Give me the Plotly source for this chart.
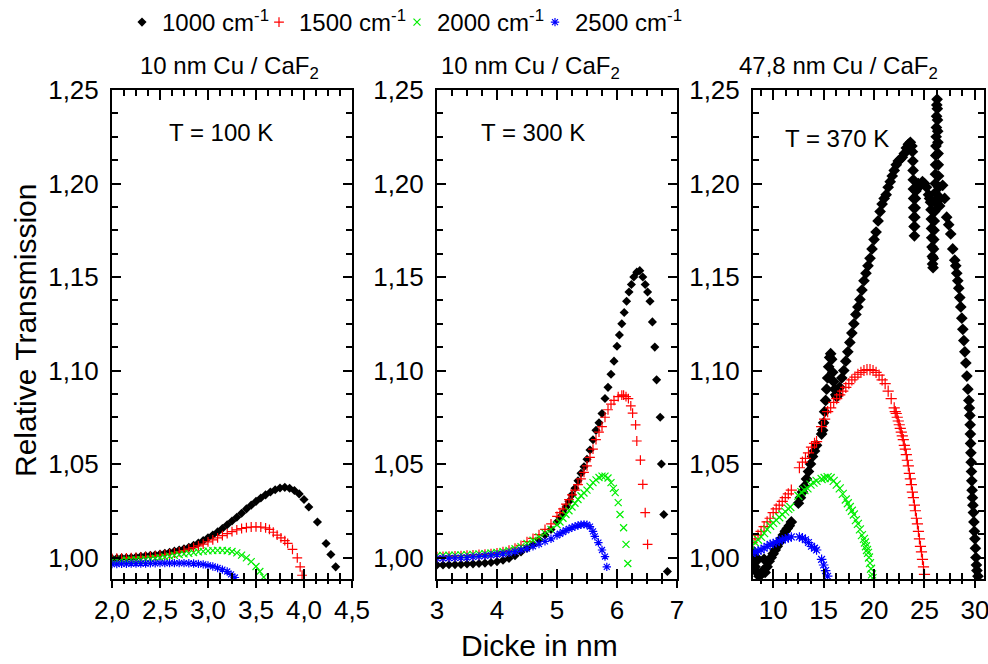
import plotly.graph_objects as go

# ---------------- data ----------------
series_names = ["1000 cm<sup>-1</sup>", "1500 cm<sup>-1</sup>", "2000 cm<sup>-1</sup>", "2500 cm<sup>-1</sup>"]
panel_titles = ["10 nm Cu / CaF<sub>2</sub>", "10 nm Cu / CaF<sub>2</sub>", "47,8 nm Cu / CaF<sub>2</sub>"]
panel_temps = ["T = 100 K", "T = 300 K", "T = 370 K"]
x_title = "Dicke in nm"
y_title = "Relative Transmission"

# Panel 1 (10 nm, 100 K)
p1_x_1000 = [2.00,2.05,2.10,2.15,2.20,2.25,2.30,2.35,2.40,2.45,2.50,2.55,2.60,2.65,2.70,2.75,2.80,2.85,2.90,2.95,
             3.00,3.05,3.10,3.15,3.20,3.25,3.30,3.35,3.40,3.45,3.50,3.55,3.60,3.65,3.70,3.75,3.80,3.85,3.90,3.95,
             4.00,4.05,4.14,4.23,4.28,4.33]
p1_y_1000 = [.9995,.9996,.9998,.9999,1.0000,1.0003,1.0006,1.0009,1.0012,1.0015,1.0018,1.0023,1.0028,1.0034,1.0040,1.0047,1.0055,1.0065,1.0077,1.0090,
             1.0105,1.0120,1.0137,1.0155,1.0175,1.0195,1.0215,1.0237,1.0260,1.0280,1.0300,1.0318,1.0335,1.0350,1.0362,1.0372,1.0375,1.0370,1.0358,1.0340,
             1.0310,1.0270,1.0190,1.0075,1.0016,0.9950]
p1_x_1500 = [2.00,2.05,2.10,2.15,2.20,2.25,2.30,2.35,2.40,2.45,2.50,2.55,2.60,2.65,2.70,2.75,2.80,2.85,2.90,2.95,
             3.00,3.05,3.10,3.15,3.20,3.25,3.30,3.35,3.40,3.45,3.50,3.55,3.60,3.64,3.68,3.72,3.76,3.80,3.83,3.88,
             3.93,3.96,3.98]
p1_y_1500 = [.9995,.9996,.9997,.9998,.9999,1.0000,1.0002,1.0004,1.0006,1.0009,1.0012,1.0015,1.0019,1.0024,1.0030,1.0037,1.0045,1.0053,1.0062,1.0072,
             1.0083,1.0094,1.0105,1.0117,1.0128,1.0138,1.0148,1.0155,1.0160,1.0163,1.0164,1.0163,1.0158,1.0150,1.0135,1.0120,1.0105,1.0090,1.0075,1.0043,
             0.9998,0.9950,0.9905]
p1_x_2000 = [2.00,2.05,2.10,2.15,2.20,2.25,2.30,2.35,2.40,2.45,2.50,2.55,2.60,2.65,2.70,2.75,2.80,2.85,2.90,2.95,
             3.00,3.05,3.10,3.15,3.20,3.25,3.30,3.35,3.40,3.45,3.50,3.54,3.58]
p1_y_2000 = [.9985,.9985,.9986,.9986,.9987,.9988,.9989,.9991,.9993,.9996,.9999,1.0003,1.0007,1.0011,1.0015,1.0019,1.0022,1.0026,1.0030,1.0033,
             1.0035,1.0037,1.0038,1.0038,1.0036,1.0032,1.0025,1.0013,.9998,.9978,.9952,.9925,.9895]
p1_x_2500 = [2.00,2.05,2.10,2.15,2.20,2.25,2.30,2.35,2.40,2.45,2.50,2.55,2.60,2.65,2.70,2.75,2.80,2.85,2.90,2.95,
             3.00,3.05,3.10,3.15,3.20,3.24,3.28]
p1_y_2500 = [.9965,.9965,.9966,.9966,.9967,.9967,.9968,.9968,.9969,.9969,.9970,.9970,.9970,.9970,.9970,.9970,.9969,.9968,.9966,.9963,
             .9958,.9952,.9944,.9935,.9925,.9910,.9893]

# Panel 2 (10 nm, 300 K)
p2_x_1000 = [3.0,3.1,3.2,3.3,3.4,3.5,3.6,3.7,3.8,3.9,4.0,4.1,4.2,4.3,4.4,4.5,4.6,4.7,4.8,4.9,5.0,
             5.05,5.10,5.15,5.20,5.25,5.30,5.35,5.40,5.45,5.50,5.55,5.60,5.65,5.70,5.75,5.80,5.85,5.90,5.95,6.00,
             6.04,6.08,6.12,6.16,6.20,6.24,6.28,
             6.33,6.38,6.43,6.47,6.51,6.55,6.59,6.63,6.66,6.72,6.74,6.78,6.84]
p2_y_1000 = [.9960,.9960,.9961,.9962,.9963,.9965,.9966,.9968,.9970,.9973,.9978,.9985,.9995,1.0010,1.0030,1.0050,1.0070,1.0095,1.0120,1.0150,1.0190,
             1.0215,1.0240,1.0270,1.0300,1.0335,1.0370,1.0410,1.0450,1.0485,1.0525,1.0575,1.0630,1.0680,1.0720,1.0770,1.0850,1.0910,1.0980,1.1050,1.1130,
             1.1190,1.1250,1.1310,1.1370,1.1420,1.1460,1.1500,
             1.1526,1.1534,1.1500,1.1460,1.1420,1.1370,1.1260,1.1125,1.0950,1.0750,1.0500,1.0230,0.9925]
p2_x_1500 = [3.0,3.1,3.2,3.3,3.4,3.5,3.6,3.7,3.8,3.9,4.0,4.1,4.2,4.3,4.4,4.5,4.6,4.7,4.8,4.9,5.0,
             5.05,5.10,5.15,5.20,5.25,5.30,5.35,5.40,5.45,5.50,5.55,5.60,5.65,5.70,5.75,5.80,5.85,5.90,5.95,
             6.02,6.08,6.11,6.15,6.19,6.23,6.26,6.31,6.33,6.39,6.43,6.47,6.51]
p2_y_1500 = [1.0005,1.0006,1.0007,1.0009,1.0010,1.0012,1.0014,1.0016,1.0018,1.0021,1.0025,1.0031,1.0039,1.0050,1.0065,1.0085,1.0102,1.0122,1.0150,1.0180,1.0220,
             1.0240,1.0260,1.0285,1.0310,1.0335,1.0360,1.0390,1.0420,1.0455,1.0490,1.0535,1.0580,1.0630,1.0670,1.0700,1.0750,1.0790,1.0820,1.0840,
             1.0860,1.0868,1.0868,1.0860,1.0850,1.0811,1.0772,1.0709,1.0623,1.0521,1.0391,1.0240,1.0070]
p2_x_2000 = [3.0,3.1,3.2,3.3,3.4,3.5,3.6,3.7,3.8,3.9,4.0,4.1,4.2,4.3,4.4,4.5,4.6,4.7,4.8,4.9,5.0,
             5.05,5.10,5.15,5.20,5.25,5.30,5.35,5.40,5.45,5.50,5.55,5.60,5.65,5.70,5.75,
             5.80,5.85,5.90,5.94,5.97,6.02,6.05,6.11,6.15,6.18]
p2_y_2000 = [1.0010,1.0011,1.0012,1.0013,1.0014,1.0015,1.0017,1.0019,1.0021,1.0024,1.0027,1.0032,1.0038,1.0047,1.0058,1.0075,1.0092,1.0110,1.0130,1.0150,1.0175,
             1.0190,1.0210,1.0230,1.0250,1.0270,1.0290,1.0310,1.0330,1.0345,1.0360,1.0380,1.0400,1.0415,1.0428,1.0435,
             1.0435,1.0425,1.0400,1.0370,1.0347,1.0293,1.0230,1.0159,1.0070,0.9968]
p2_x_2500 = [3.0,3.1,3.2,3.3,3.4,3.5,3.6,3.7,3.8,3.9,4.0,4.1,4.2,4.3,4.4,4.5,4.6,4.7,4.8,4.9,5.0,
             5.05,5.10,5.15,5.20,5.25,5.30,5.35,5.40,5.45,5.50,5.55,
             5.60,5.63,5.69,5.75,5.80,5.83]
p2_y_2500 = [.9995,.9996,.9997,.9998,.9999,1.0000,1.0003,1.0006,1.0009,1.0012,1.0016,1.0020,1.0025,1.0032,1.0040,1.0048,1.0060,1.0072,1.0086,1.0100,1.0118,
             1.0127,1.0136,1.0145,1.0153,1.0160,1.0166,1.0171,1.0175,1.0177,1.0175,1.0165,
             1.0140,1.0113,1.0080,1.0040,1.0005,0.9950]

# Panel 3 (47,8 nm, 370 K)
p3_x_1000 = [8.0,8.1,8.2,8.4,8.5,8.6,8.8,9.0,9.1,9.2,9.4,9.6,9.8,10.0,10.2,10.4,10.6,10.8,11.0,11.2,11.4,11.6,11.8,
             12.5,12.7,12.9,13.1,13.3,13.5,13.7,13.9,14.1,14.3,
             14.8,14.9,15.0,15.1,15.2,15.3,15.4,15.5,15.6,15.7,
             15.8,15.9,16.0,16.1,16.2,16.3,16.4,16.6,16.8,17.0,
             17.2,17.4,17.6,17.8,18.0,18.2,18.4,18.6,18.8,19.0,
             19.2,19.4,19.6,19.8,20.0,20.2,20.4,20.6,20.8,21.0,
             21.2,21.4,21.6,21.8,22.0,22.2,22.4,22.6,22.8,23.0,
             23.2,23.4,23.6,23.75,23.8,23.85,23.87,23.89,23.9,23.92,23.93,23.95,23.97,24.0,
             24.03,24.05,24.08,24.1,24.15,24.2,24.4,24.6,24.8,25.0,25.2,25.4,25.5,
             25.6,25.65,25.68,25.7,25.72,25.75,25.78,25.8,25.85,25.88,25.9,25.92,25.95,25.97,26.0,
             26.02,26.05,26.07,26.09,26.1,26.12,26.14,26.16,26.18,26.2,26.22,
             26.25,26.27,26.29,26.31,26.33,26.35,26.37,26.4,26.43,26.46,26.5,26.6,26.8,
             27.0,27.2,27.4,27.6,27.8,28.0,28.1,28.2,28.3,28.4,28.5,28.6,28.7,28.8,28.9,
             29.0,29.1,29.2,29.3,29.4,29.45,29.5,29.53,29.55,29.57,29.6,29.63,29.66,29.69,29.72,
             29.75,29.8,29.85,29.9,29.95,30.0,30.05,30.1,30.15,30.2,30.3]
p3_y_1000 = [0.998,1.003,0.995,0.992,0.999,0.990,0.991,0.993,0.999,0.992,0.995,0.998,1.000,1.002,1.004,1.006,1.008,1.010,1.012,1.014,1.0155,1.017,1.019,
             1.029,1.032,1.035,1.038,1.042,1.046,1.050,1.054,1.057,1.060,
             1.066,1.068,1.072,1.078,1.084,1.090,1.096,1.102,1.107,1.109,
             1.106,1.099,1.094,1.090,1.087,1.086,1.087,1.091,1.096,1.100,
             1.105,1.110,1.115,1.120,1.125,1.130,1.134,1.138,1.143,1.148,
             1.152,1.156,1.160,1.165,1.170,1.174,1.180,1.185,1.189,1.192,
             1.194,1.198,1.201,1.204,1.207,1.210,1.212,1.213,1.214,1.216,
             1.219,1.221,1.222,1.220,1.217,1.212,1.207,1.202,1.197,1.192,1.187,1.182,1.177,1.172,
             1.177,1.182,1.187,1.192,1.196,1.197,1.200,1.199,1.201,1.200,1.198,1.194,1.192,
             1.190,1.186,1.181,1.176,1.171,1.166,1.161,1.157,1.155,1.160,1.165,1.170,1.175,1.180,1.185,
             1.190,1.195,1.200,1.205,1.210,1.215,1.220,1.225,1.230,1.236,1.242,
             1.245,1.240,1.234,1.228,1.222,1.216,1.210,1.204,1.198,1.192,1.188,1.192,1.199,
             1.192,1.182,1.178,1.173,1.165,1.159,1.156,1.152,1.148,1.144,1.139,1.134,1.128,1.122,1.116,
             1.110,1.104,1.097,1.090,1.084,1.080,1.076,1.071,1.066,1.061,1.056,1.051,1.046,1.041,1.036,
             1.032,1.028,1.024,1.019,1.014,1.010,1.005,1.000,0.996,0.993,0.990]
p3_x_1500 = [7.9,8.2,8.5,8.8,9.1,9.4,9.7,10.0,10.3,10.6,10.9,11.2,11.5,11.8,
             12.6,12.9,13.2,13.5,13.8,14.1,14.3,
             14.8,15.1,15.4,15.7,16.0,16.3,16.6,16.9,17.2,17.5,17.8,18.1,18.4,18.7,19.0,19.3,19.6,19.9,20.2,20.5,20.8,21.1,21.4,21.7,
             22.0,22.1,22.2,22.3,22.4,22.5,22.6,22.7,22.8,22.9,23.0,23.1,23.2,23.3,23.4,23.5,23.6,23.7,23.8,23.9,
             24.0,24.1,24.2,24.3,24.4,24.5,24.6,24.7,24.8,24.9,25.0]
p3_y_1500 = [1.008,1.010,1.012,1.014,1.0165,1.019,1.021,1.024,1.026,1.028,1.030,1.032,1.034,1.036,
             1.048,1.051,1.053,1.056,1.059,1.061,1.062,
             1.070,1.074,1.078,1.080,1.083,1.085,1.087,1.089,1.091,1.093,1.095,1.0965,1.098,1.099,1.100,1.1005,1.1005,1.100,1.099,1.0975,1.095,1.093,1.089,1.085,
             1.080,1.078,1.077,1.075,1.073,1.071,1.069,1.067,1.065,1.063,1.060,1.058,1.055,1.052,1.049,1.045,1.042,1.039,1.035,1.032,
             1.028,1.025,1.021,1.018,1.014,1.010,1.006,1.003,0.999,0.995,0.991]
p3_x_2000 = [7.9,8.2,8.5,8.8,9.1,9.4,9.7,10.0,10.3,10.6,10.9,11.2,11.5,11.7,
             12.5,12.8,13.1,13.4,13.7,14.0,14.3,
             14.8,15.1,15.4,15.7,16.0,16.3,16.6,16.9,17.2,17.4,17.6,17.8,18.0,18.2,18.4,18.6,18.8,19.0,
             19.1,19.2,19.3,19.4,19.5,19.6,19.7,19.8,19.85]
p3_y_2000 = [1.006,1.008,1.0095,1.011,1.013,1.015,1.017,1.0185,1.020,1.0215,1.023,1.0245,1.026,1.027,
             1.033,1.035,1.036,1.037,1.039,1.040,1.041,
             1.042,1.0425,1.043,1.0425,1.041,1.039,1.037,1.034,1.031,1.029,1.027,1.025,1.023,1.020,1.018,1.015,1.012,1.010,
             1.008,1.006,1.004,1.0025,1.000,0.997,0.994,0.991,0.989]
p3_x_2500 = [7.9,8.2,8.5,8.8,9.1,9.4,9.7,10.0,10.3,10.6,10.9,11.2,11.5,11.8,
             12.6,12.9,13.2,13.5,13.8,14.1,14.3,
             14.8,15.0,15.2,15.4]
p3_y_2500 = [1.002,1.003,1.0035,1.004,1.005,1.006,1.007,1.0075,1.008,1.009,1.0095,1.010,1.0105,1.011,
             1.011,1.0105,1.0095,1.008,1.006,1.005,1.004,
             0.999,0.996,0.993,0.990]

panel_data = [
    [(p1_x_1000, p1_y_1000), (p1_x_1500, p1_y_1500), (p1_x_2000, p1_y_2000), (p1_x_2500, p1_y_2500)],
    [(p2_x_1000, p2_y_1000), (p2_x_1500, p2_y_1500), (p2_x_2000, p2_y_2000), (p2_x_2500, p2_y_2500)],
    [(p3_x_1000, p3_y_1000), (p3_x_1500, p3_y_1500), (p3_x_2000, p3_y_2000), (p3_x_2500, p3_y_2500)],
]
for pd_ in panel_data:
    for xs, ys in pd_:
        if len(xs) != len(ys):
            raise ValueError(f"length mismatch {len(xs)} {len(ys)} starting {xs[0]}")

# ---------------- styling ----------------
FONT = "Liberation Sans, Arial, sans-serif"
W, H = 988, 664
colors = ["#000000", "#ff0000", "#00ee00", "#0000ff"]
symbols = ["diamond", "cross-thin-open", "x-thin-open", "asterisk-open"]
sizes_by_panel = [[7, 7, 7, 7], [7, 7, 7, 7], [9, 8, 8, 8]]
legend_ids = ["legend", "legend2", "legend3", "legend4"]
legend_left_px = [122, 259, 397, 535]

x_ranges = [[2.0, 4.5], [3.0, 7.0], [8.0, 30.9]]
x_dticks = [0.5, 1.0, 5.0]
x_minor = [0.125, 0.25, 1.25]
x_formats = [".1f", "d", "d"]
y_range = [0.9885, 1.25]
x_domains = [[112 / W, 352 / W], [437 / W, 677 / W], [753 / W, 984 / W]]
y_domain = [1 - 579 / H, 1 - 90 / H]

fig = go.Figure()
for p in range(3):
    ax = "" if p == 0 else str(p + 1)
    for s in range(4):
        xs, ys = panel_data[p][s]
        if s == 0:
            marker = dict(symbol=symbols[s], color=colors[s], size=sizes_by_panel[p][s], line=dict(width=0))
        else:
            marker = dict(symbol=symbols[s], color=colors[s], size=sizes_by_panel[p][s],
                          line=dict(color=colors[s], width=1.2))
        fig.add_trace(go.Scatter(
            x=xs, y=ys, mode="markers", marker=marker, name=series_names[s],
            legendgroup=series_names[s], showlegend=(p == 0), legend=legend_ids[s],
            xaxis="x" + ax, yaxis="y" + ax, hoverinfo="skip"))
    # empty helper trace so the overlay x axis (outer tick halves + labels) is drawn
    fig.add_trace(go.Scatter(x=[], y=[], mode="markers", showlegend=False, hoverinfo="skip",
                             xaxis="x" + str(4 + p), yaxis="y" + ax))

layout = dict(
    width=W, height=H, margin=dict(l=0, r=0, t=0, b=0, autoexpand=False),
    paper_bgcolor="white", plot_bgcolor="white",
    font=dict(family=FONT, color="black", size=22),
    separators=",.",
    showlegend=True,
)
for s in range(4):
    layout[legend_ids[s]] = dict(orientation="h", x=legend_left_px[s] / W, y=1.0, xanchor="left", yanchor="top",
                                 font=dict(size=24, family=FONT), bgcolor="rgba(0,0,0,0)", itemwidth=30)

for p in range(3):
    ax = "" if p == 0 else str(p + 1)
    layout["xaxis" + ax] = dict(
        domain=x_domains[p], range=x_ranges[p], anchor="y" + ax,
        showline=True, linecolor="black", linewidth=2, mirror="ticks",
        ticks="inside", ticklen=10, tickwidth=2, tickcolor="black",
        dtick=x_dticks[p], tick0=0,
        minor=dict(dtick=x_minor[p], tick0=0, ticks="inside", ticklen=6, tickwidth=2, tickcolor="black"),
        showticklabels=False, showgrid=False, zeroline=False, fixedrange=True)
    layout["xaxis" + str(4 + p)] = dict(
        overlaying="x" + ax, anchor="y" + ax, side="bottom", range=x_ranges[p],
        showline=False, ticks="outside", ticklen=8, tickwidth=2, tickcolor="black",
        dtick=x_dticks[p], tick0=0, tickformat=x_formats[p],
        minor=dict(dtick=x_minor[p], tick0=0, ticks="outside", ticklen=4, tickwidth=2, tickcolor="black"),
        showticklabels=True, tickfont=dict(size=26, family=FONT), ticklabeloverflow="allow",
        showgrid=False, zeroline=False, fixedrange=True)
    layout["yaxis" + ax] = dict(
        domain=y_domain, range=y_range, anchor="x" + ax,
        showline=True, linecolor="black", linewidth=2, mirror="ticks",
        ticks="inside", ticklen=9, tickwidth=2, tickcolor="black",
        dtick=0.05, tick0=1.0, tickformat=".2f",
        minor=dict(dtick=0.0125, tick0=1.0, ticks="inside", ticklen=6, tickwidth=2, tickcolor="black"),
        tickfont=dict(size=26, family=FONT), ticklabelstandoff=6,
        showgrid=False, zeroline=False, fixedrange=True)

fig.update_layout(**layout)

title_pos = [(229, 68), (530, 68), (838, 68)]
temp_pos = [(221, 132), (533, 132), (837, 139)]
annotations = []
for p in range(3):
    annotations.append(dict(text=panel_titles[p], x=title_pos[p][0] / W, y=1 - title_pos[p][1] / H,
                            xref="paper", yref="paper", showarrow=False, xanchor="center", yanchor="middle",
                            font=dict(size=24, family=FONT)))
    annotations.append(dict(text=panel_temps[p], x=temp_pos[p][0] / W, y=1 - temp_pos[p][1] / H,
                            xref="paper", yref="paper", showarrow=False, xanchor="center", yanchor="middle",
                            font=dict(size=24, family=FONT)))
annotations.append(dict(text=y_title, x=25 / W, y=1 - 331 / H, xref="paper", yref="paper", showarrow=False,
                        textangle=-90, xanchor="center", yanchor="middle", font=dict(size=30, family=FONT)))
annotations.append(dict(text=x_title, x=539 / W, y=1 - 645 / H, xref="paper", yref="paper", showarrow=False,
                        xanchor="center", yanchor="middle", font=dict(size=30, family=FONT)))
fig.update_layout(annotations=annotations)

fig.write_html("out.html")
